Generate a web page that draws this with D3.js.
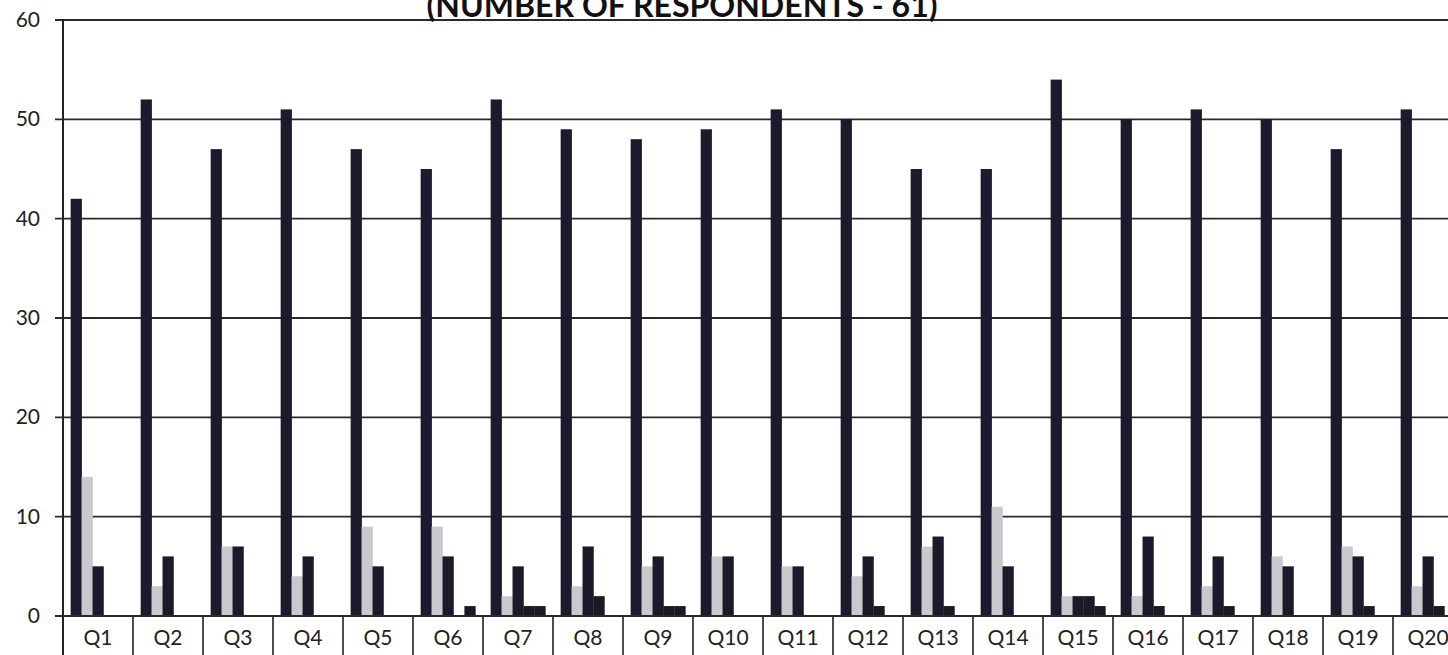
<!DOCTYPE html>
<html>
<head>
<meta charset="utf-8">
<script src="https://cdn.jsdelivr.net/npm/d3@7"></script>
<style>
  body { margin: 0; background: #fff; overflow: hidden; }
  text { font-family: Lato, "Open Sans", "Liberation Sans", sans-serif; }
</style>
</head>
<body>
<div id="chart"></div>
<script>
// questions and the five answer series (61 respondents each)
var questions = ["Q1","Q2","Q3","Q4","Q5","Q6","Q7","Q8","Q9","Q10",
                 "Q11","Q12","Q13","Q14","Q15","Q16","Q17","Q18","Q19","Q20"];
var seriesA = [42,52,47,51,47,45,52,49,48,49,51,50,45,45,54,50,51,50,47,51];
var seriesB = [14,3,7,4,9,9,2,3,5,6,5,4,7,11,2,2,3,6,7,3];
var seriesC = [5,6,7,6,5,6,5,7,6,6,5,6,8,5,2,8,6,5,6,6];
var seriesD = [0,0,0,0,0,0,1,2,1,0,0,1,1,0,2,1,1,0,1,1];
var seriesE = [0,0,0,0,0,1,1,0,1,0,0,0,0,0,1,0,0,0,0,0];
var yTicks = [0,10,20,30,40,50,60];
var title = "(NUMBER OF RESPONDENTS - 61)";

var w = 1448, h = 655;
var marginLeft = 63, plotTop = 20, plotBottom = 616;

var seriesNames = ["A","B","C","D","E"];
var seriesData = [seriesA, seriesB, seriesC, seriesD, seriesE];
var colours = ["#1c1b2e", "#c9c9ce", "#1b1a2b", "#1a1a24", "#1a1a24"];

var svg = d3.select("#chart").append("svg").attr("width", w).attr("height", h);

var y = d3.scaleLinear().domain([0, 60]).range([plotBottom, plotTop]);
var x = d3.scaleBand().domain(questions)
    .range([marginLeft, marginLeft + 70 * questions.length]).padding(0);
var xSub = d3.scaleBand().domain(seriesNames).range([0, x.bandwidth()])
    .paddingInner(0).paddingOuter(0.7);

// horizontal grid lines with small ticks to the left
svg.append("g").selectAll("line")
    .data(yTicks.filter(d => d > 0))
    .enter().append("line")
    .attr("x1", marginLeft - 8).attr("x2", w)
    .attr("y1", d => y(d)).attr("y2", d => y(d))
    .attr("stroke", "#2a2a2a").attr("stroke-width", 1.8);

// y labels
svg.append("g").selectAll("text")
    .data(yTicks)
    .enter().append("text")
    .attr("x", 40).attr("y", d => y(d) + 7)
    .attr("text-anchor", "end")
    .attr("font-size", 21)
    .attr("fill", "#222")
    .text(d => d);

// bars
var groups = svg.append("g").selectAll("g")
    .data(questions)
    .enter().append("g")
    .attr("transform", d => "translate(" + x(d) + ",0)");

groups.selectAll("rect")
    .data((q, i) => seriesNames.map((s, k) => ({ s: s, k: k, v: seriesData[k][i] })))
    .enter().append("rect")
    .attr("x", d => xSub(d.s))
    .attr("width", xSub.bandwidth() + 0.3)
    .attr("y", d => y(d.v))
    .attr("height", d => y(0) - y(d.v))
    .attr("fill", d => colours[d.k]);

// baseline, left axis and category boxes
svg.append("line")
    .attr("x1", marginLeft - 8).attr("x2", w)
    .attr("y1", plotBottom).attr("y2", plotBottom)
    .attr("stroke", "#2a2a2a").attr("stroke-width", 1.8);

svg.append("line")
    .attr("x1", marginLeft).attr("x2", marginLeft)
    .attr("y1", plotTop - 1).attr("y2", h)
    .attr("stroke", "#222").attr("stroke-width", 2);

svg.append("g").selectAll("line")
    .data(questions.slice(1))
    .enter().append("line")
    .attr("x1", d => x(d)).attr("x2", d => x(d))
    .attr("y1", plotBottom).attr("y2", h)
    .attr("stroke", "#222").attr("stroke-width", 1.6);

svg.append("g").selectAll("text")
    .data(questions)
    .enter().append("text")
    .attr("x", d => x(d) + x.bandwidth() / 2)
    .attr("y", 645)
    .attr("text-anchor", "middle")
    .attr("font-size", 21)
    .attr("fill", "#222")
    .text(d => d);

// title, cut off at the top like the scan
svg.append("text")
    .attr("x", 682).attr("y", 17)
    .attr("text-anchor", "middle")
    .attr("font-size", 32)
    .attr("font-weight", "bold")
    .attr("textLength", 511)
    .attr("lengthAdjust", "spacingAndGlyphs")
    .attr("fill", "#111")
    .text(title);
</script>
</body>
</html>
